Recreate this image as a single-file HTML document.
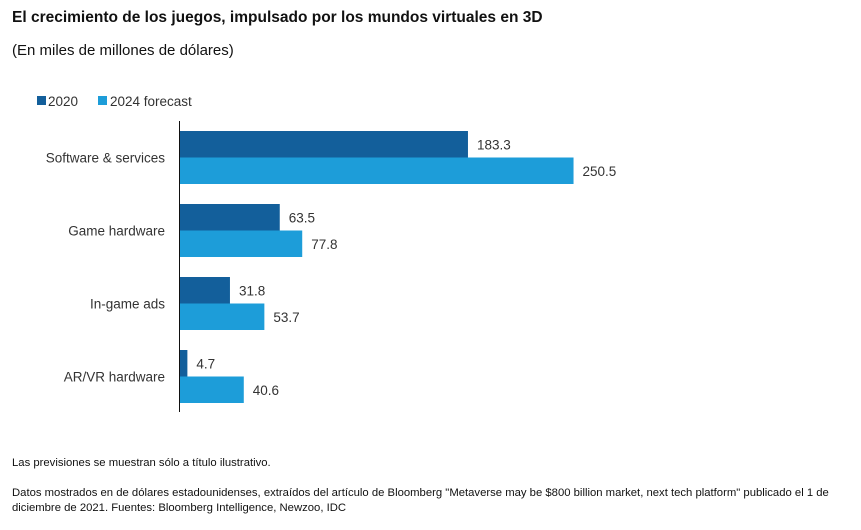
<!DOCTYPE html>
<html><head><meta charset="utf-8">
<style>
body{margin:0;background:#fff;width:861px;height:525px;overflow:hidden;font-family:"Liberation Sans",sans-serif;}
</style></head>
<body>
<svg id="chart" width="861" height="525" xmlns="http://www.w3.org/2000/svg">
<text x="12" y="22" font-size="15.5" font-weight="bold" fill="#111">El crecimiento de los juegos, impulsado por los mundos virtuales en 3D</text>
<text x="12" y="55" font-size="15" fill="#111">(En miles de millones de dólares)</text>
<g>
<rect x="37" y="96" width="9" height="9" fill="#135f9b"/>
<text x="48" y="106" font-size="13.5" fill="#333">2020</text>
<rect x="98" y="96" width="9" height="9" fill="#1d9dd9"/>
<text x="110" y="106" font-size="13.5" fill="#333">2024 forecast</text>
</g>
<g id="bars"></g>
<line x1="179.5" y1="121" x2="179.5" y2="412" stroke="#111" stroke-width="1"/>
<text x="12" y="466" font-size="11.3" fill="#111">Las previsiones se muestran sólo a título ilustrativo.</text>
<text x="12" y="496" font-size="11.3" fill="#111">Datos mostrados en de dólares estadounidenses, extraídos del artículo de Bloomberg "Metaverse may be $800 billion market, next tech platform" publicado el 1 de</text>
<text x="12" y="511" font-size="11.3" fill="#111">diciembre de 2021. Fuentes: Bloomberg Intelligence, Newzoo, IDC</text>
</svg>
<script>
const categories = ["Software & services","Game hardware","In-game ads","AR/VR hardware"];
const values2020 = [183.3, 63.5, 31.8, 4.7];
const values2024 = [250.5, 77.8, 53.7, 40.6];

const x0 = 180, pxPerUnit = 1.571;
const xScale = v => x0 + v * pxPerUnit;
const rowTop = i => 131 + i * 73;
const barH = 26.5;
const g = document.getElementById('bars');
const NS = "http://www.w3.org/2000/svg";
function mk(tag, attrs){const e=document.createElementNS(NS,tag);for(const k in attrs)e.setAttribute(k,attrs[k]);return e;}
categories.forEach((c,i)=>{
  const y = rowTop(i);
  const lab = mk('text',{x:165,y:y+barH+5,'font-size':13.5,fill:'#333','text-anchor':'end'});
  lab.textContent = c;
  
  
  g.appendChild(lab);
  [[values2020[i],'#135f9b',0],[values2024[i],'#1d9dd9',1]].forEach(([v,col,k])=>{
    const by = y + k*barH;
    const r = mk('rect',{x:x0,y:by,width:xScale(v)-x0,height:barH,fill:col});
    
    
    g.appendChild(r);
    const t = mk('text',{x:xScale(v)+9,y:by+barH/2+5,'font-size':13.5,fill:'#333'});
    t.textContent = v.toFixed(1);
    
    
    g.appendChild(t);
  });
});
</script>
</body></html>
